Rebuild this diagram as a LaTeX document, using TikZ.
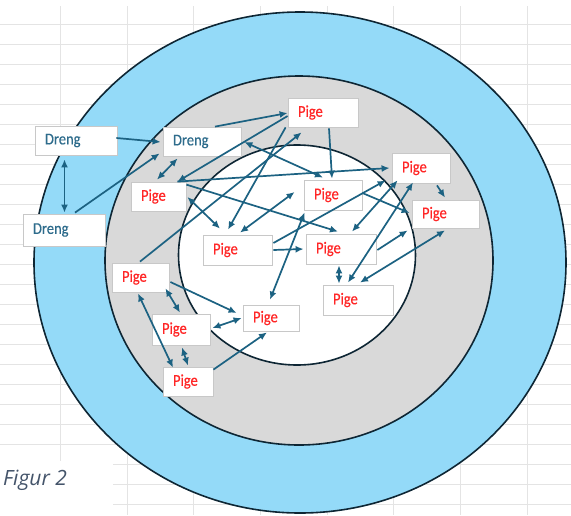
\documentclass[tikz,border=0pt]{standalone}
\usepackage{fontspec}
\usetikzlibrary{arrows.meta}
\newfontfamily\carlito{Carlito}[FakeStretch = 0.88, FakeBold = 0.4]
\newfontfamily\opensans{Open Sans}
\definecolor{ringblaa}{RGB}{148,218,248}
\definecolor{ringgraa}{RGB}{217,217,217}
\definecolor{kant}{RGB}{14,38,52}
\definecolor{pilfarve}{RGB}{28,98,130}
\definecolor{drengfarve}{RGB}{46,108,140}
\definecolor{pigefarve}{RGB}{255,38,38}
\definecolor{gitter}{RGB}{228,228,228}
\definecolor{figurfarve}{RGB}{68,84,106}
\definecolor{boksrand}{RGB}{200,200,200}

\begin{document}
\begin{tikzpicture}[x = 1pt, y = -1pt,
	boks/.style = {draw = boksrand, fill = white, line width = 0.8pt, inner xsep = 10pt, inner ysep = 0pt, minimum height = 29pt, align = left, font = \carlito\fontsize{16.5}{18}\selectfont},
	dreng/.style = {boks, text = drengfarve},
	pige/.style = {boks, text = pigefarve},
	>={Latex[length = 8pt, width = 7pt]}]
	\useasboundingbox (0,0) rectangle (571,515);
	% gitter i baggrunden
	\foreach \y in {24,44,...,504}
		\draw[gitter, line width = 0.8pt] (0,\y) -- (571,\y);
	\foreach \x in {60,127,193,260,327,393,460,527}
		\draw[gitter, line width = 0.8pt] (\x,6) -- (\x,515);
	\fill[white] (0,461) rectangle (113,515);
	% ringene
	\draw[kant, line width = 1.6pt, fill = ringblaa] (300,262.5) ellipse [x radius = 266pt, y radius = 250.5pt];
	\draw[kant, line width = 1.6pt, fill = ringgraa] (299,260.5) ellipse [x radius = 194pt, y radius = 184.5pt];
	\draw[kant, line width = 1.6pt, fill = white] (297,255) ellipse [x radius = 118.5pt, y radius = 110pt];
	% boksene
	\node[dreng, text width = 62pt] (d1) at (76,140.5) {Dreng};
	\node[dreng, text width = 62pt, minimum height = 32pt] (d2) at (64,230) {Dreng};
	\node[dreng, text width = 58pt] (d3) at (202,141.5) {Dreng};
	\node[pige, text width = 50pt] (p1) at (323,112.5) {Pige};
	\node[pige, text width = 35pt] (p2) at (158.5,196.5) {Pige};
	\node[pige, text width = 38pt, minimum height = 30pt] (p3) at (333,195) {Pige};
	\node[pige, text width = 38pt, minimum height = 30pt] (p4) at (421,168) {Pige};
	\node[pige, text width = 47pt, minimum height = 28pt] (p5) at (445.5,214) {Pige};
	\node[pige, text width = 49pt, minimum height = 30pt] (p6) at (237.5,250) {Pige};
	\node[pige, text width = 50pt, minimum height = 30pt] (p7) at (341,249) {Pige};
	\node[pige, text width = 50pt, minimum height = 30pt] (p8) at (358,300) {Pige};
	\node[pige, text width = 37pt] (p9) at (140.5,277.5) {Pige};
	\node[pige, text width = 38pt, minimum height = 31pt] (p10) at (181,329.5) {Pige};
	\node[pige, text width = 30pt] (p11) at (188,381.5) {Pige};
	\node[pige, text width = 36pt, minimum height = 26pt] (p12) at (271,318) {Pige};
	\node[anchor = base west, inner sep = 0pt, text = figurfarve, font = \opensans\itshape\fontsize{21}{24}\selectfont] (figur) at (3,485) {Figur 2};
	% pilene
	\begin{scope}[pilfarve, line width = 1.7pt]
		\draw[<->] ([shift = {(-11.5,4)}]d1.south) -- ([shift = {(0.5,-1)}]d2.north);
		\draw[->] ([shift = {(-1,-2.5)}]d1.east) -- ([shift = {(-2,0.5)}]d3.west);
		\draw[->] ([shift = {(11,-1)}]d2.north) -- ([shift = {(-3,-3)}]d3.south west);
		\draw[<->] ([shift = {(15,2)}]d3.south west) -- ([shift = {(-1.5,-2)}]p2.north);
		\draw[->] ([shift = {(13,0)}]d3.north) -- ([shift = {(0,0.5)}]p1.west);
		\draw[->] ([shift = {(0,3.5)}]p1.west) -- ([shift = {(-9,0)}]p2.north east);
		\draw[->] ([shift = {(-0.5,-1)}]p9.north) -- ([shift = {(14,5)}]p1.south west);
		\draw[->] ([shift = {(-2,0)}]p1.south west) -- ([shift = {(-9.5,-5)}]p6.north);
		\draw[<->] ([shift = {(2.5,-2)}]p6.north) -- ([shift = {(-9,-3)}]p3.west);
		\draw[<->] ([shift = {(1,0.5)}]p2.east) -- ([shift = {(-17.5,-6)}]p6.north);
		\draw[<->] ([shift = {(3,0.5)}]d3.east) -- ([shift = {(-10,-2)}]p3.north);
		\draw[->] ([shift = {(6,1)}]p1.south) -- ([shift = {(-1,-1)}]p3.north);
		\draw[->] ([shift = {(-9,0)}]p2.north east) -- ([shift = {(-2,0)}]p4.west);
		\draw[->] ([shift = {(0,3)}]p2.north east) -- ([shift = {(-3,-2)}]p7.north);
		\draw[->] ([shift = {(0,-2)}]p3.east) -- ([shift = {(-2,-1)}]p5.west);
		\draw[->] ([shift = {(16,2)}]p4.south) -- ([shift = {(-0.5,-2)}]p5.north);
		\draw[->] ([shift = {(1,-7)}]p6.east) -- ([shift = {(-6,-3)}]p4.south west);
		\draw[->] ([shift = {(1,0)}]p6.east) -- ([shift = {(-2,0)}]p7.west);
		\draw[<->] ([shift = {(1,2)}]p3.south west) -- ([shift = {(-1,-5)}]p12.north);
		\draw[<->] ([shift = {(11,-2)}]p7.north) -- ([shift = {(6,-3)}]p4.south west);
		\draw[->] ([shift = {(1,1)}]p7.east) -- ([shift = {(-4,2)}]p5.south west);
		\draw[<->] ([shift = {(-2,1)}]p7.south) -- ([shift = {(-19,-1)}]p8.north);
		\draw[<->] ([shift = {(-10,-2)}]p8.north) -- ([shift = {(-8,-1)}]p4.south);
		\draw[<->] ([shift = {(2,-2)}]p8.north) -- ([shift = {(-0.5,2)}]p5.south);
		\draw[->] ([shift = {(1,4.5)}]p9.east) -- ([shift = {(-6,-5)}]p12.west);
		\draw[<->] ([shift = {(-4,-4)}]p9.south east) -- ([shift = {(-1,-1)}]p10.north);
		\draw[<->] ([shift = {(-2.5,1)}]p9.south) -- ([shift = {(-15,1)}]p11.north);
		\draw[<->] ([shift = {(2,-1.5)}]p10.east) -- ([shift = {(-1,0)}]p12.west);
		\draw[<->] ([shift = {(1,2)}]p10.south) -- ([shift = {(0,-1)}]p11.north);
		\draw[->] ([shift = {(0,3)}]p11.north east) -- ([shift = {(-4,1)}]p12.south);
	\end{scope}
\end{tikzpicture}
\end{document}
